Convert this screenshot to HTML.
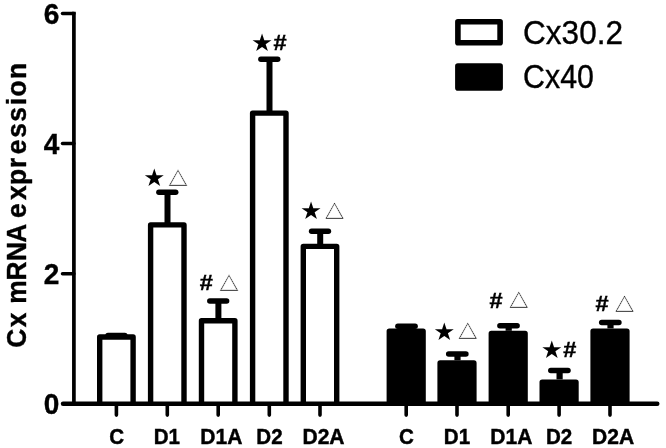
<!DOCTYPE html>
<html lang="en"><head><meta charset="utf-8"><title>Cx mRNA expression</title>
<style>html,body{margin:0;padding:0;background:#fff}body{width:666px;height:448px;overflow:hidden}svg{display:block}text{font-family:"Liberation Sans","DejaVu Sans",sans-serif;fill:#000}.b{font-weight:bold}.sym{font-family:"DejaVu Sans","Liberation Sans",sans-serif}</style></head><body>
<svg width="666" height="448" viewBox="0 0 666 448">
<rect width="666" height="448" fill="#fff"/>
<g stroke="#000" fill="none" stroke-linecap="round" stroke-linejoin="round">
<path d="M116.6 337.0V335.4" stroke-width="6" stroke-linecap="butt"/><path d="M108.0 335.4H124.8" stroke-width="5.5"/>
<path d="M167.5 224.9V192.3" stroke-width="6" stroke-linecap="butt"/><path d="M158.9 192.3H175.7" stroke-width="5.5"/>
<path d="M218.4 320.7V300.9" stroke-width="6" stroke-linecap="butt"/><path d="M209.8 300.9H226.6" stroke-width="5.5"/>
<path d="M269.5 113.1V59.3" stroke-width="6" stroke-linecap="butt"/><path d="M260.9 59.3H277.7" stroke-width="5.5"/>
<path d="M320.2 246.4V231.2" stroke-width="6" stroke-linecap="butt"/><path d="M311.6 231.2H328.4" stroke-width="5.5"/>
<path d="M99.7 403.8V337.0H133.1V403.8" stroke-width="5.4" stroke-linecap="butt" fill="#fff"/>
<path d="M150.6 403.8V224.9H184.0V403.8" stroke-width="5.4" stroke-linecap="butt" fill="#fff"/>
<path d="M201.5 403.8V320.7H234.9V403.8" stroke-width="5.4" stroke-linecap="butt" fill="#fff"/>
<path d="M252.6 403.8V113.1H286.0V403.8" stroke-width="5.4" stroke-linecap="butt" fill="#fff"/>
<path d="M303.3 403.8V246.4H336.7V403.8" stroke-width="5.4" stroke-linecap="butt" fill="#fff"/>
</g>
<g stroke="#000" stroke-linecap="round">
<path d="M406.7 328.4V326.3" stroke-width="6.2" stroke-linecap="butt" fill="none"/><path d="M397.9 326.3H415.1" stroke-width="5.5" fill="none"/>
<path d="M457.5 360.3V353.9" stroke-width="6.2" stroke-linecap="butt" fill="none"/><path d="M448.7 353.9H465.9" stroke-width="5.5" fill="none"/>
<path d="M508.7 330.8V325.7" stroke-width="6.2" stroke-linecap="butt" fill="none"/><path d="M499.9 325.7H517.1" stroke-width="5.5" fill="none"/>
<path d="M559.6 379.4V370.4" stroke-width="6.2" stroke-linecap="butt" fill="none"/><path d="M550.8 370.4H568.0" stroke-width="5.5" fill="none"/>
<path d="M610.5 328.4V322.6" stroke-width="6.2" stroke-linecap="butt" fill="none"/><path d="M601.7 322.6H618.9" stroke-width="5.5" fill="none"/>
<path d="M389.3 403.8V331.1H423.1V403.8" stroke-width="5.4" stroke-linejoin="round" stroke-linecap="butt" fill="#000"/>
<path d="M440.1 403.8V363.0H473.9V403.8" stroke-width="5.4" stroke-linejoin="round" stroke-linecap="butt" fill="#000"/>
<path d="M491.3 403.8V333.5H525.1V403.8" stroke-width="5.4" stroke-linejoin="round" stroke-linecap="butt" fill="#000"/>
<path d="M542.2 403.8V382.1H576.0V403.8" stroke-width="5.4" stroke-linejoin="round" stroke-linecap="butt" fill="#000"/>
<path d="M593.1 403.8V331.1H626.9V403.8" stroke-width="5.4" stroke-linejoin="round" stroke-linecap="butt" fill="#000"/>
</g>
<g stroke="#000" fill="none" stroke-linecap="round">
<path d="M73.9 13.5V403.8" stroke-width="3.7" stroke-linecap="square"/>
<path d="M63 403.8H657.3" stroke-width="4.4"/>
<path d="M62.5 273.7H73.9" stroke-width="3.5"/>
<path d="M62.5 143.6H73.9" stroke-width="3.5"/>
<path d="M62.5 13.5H73.9" stroke-width="3.5"/>
<path d="M116.4 405.8V415.1" stroke-width="3.6"/>
<path d="M167.3 405.8V415.1" stroke-width="3.6"/>
<path d="M218.2 405.8V415.1" stroke-width="3.6"/>
<path d="M269.3 405.8V415.1" stroke-width="3.6"/>
<path d="M320.0 405.8V415.1" stroke-width="3.6"/>
<path d="M406.2 405.8V415.1" stroke-width="3.6"/>
<path d="M457.0 405.8V415.1" stroke-width="3.6"/>
<path d="M508.2 405.8V415.1" stroke-width="3.6"/>
<path d="M559.1 405.8V415.1" stroke-width="3.6"/>
<path d="M610.0 405.8V415.1" stroke-width="3.6"/>
</g>
<text class="b" font-size="28" text-anchor="end" stroke="#000" stroke-width="0.4" transform="translate(59.4 413.8) scale(1 1.07)">0</text>
<text class="b" font-size="28" text-anchor="end" stroke="#000" stroke-width="0.4" transform="translate(59.4 283.7) scale(1 1.07)">2</text>
<text class="b" font-size="28" text-anchor="end" stroke="#000" stroke-width="0.4" transform="translate(59.4 153.6) scale(1 1.07)">4</text>
<text class="b" font-size="28" text-anchor="end" stroke="#000" stroke-width="0.4" transform="translate(59.4 23.5) scale(1 1.07)">6</text>
<text class="b" font-size="28.0" stroke="#000" stroke-width="0.4" x="0.34 21.95 38.75 47.12 71.85 92.66 112.09 128.89 138.37 157.54 173.28 191.50 206.19 223.57 240.81 258.36 267.57 286.18" y="0" transform="translate(25.7 348.0) rotate(-90) scale(0.94 1)">Cx mRNA expression</text>
<text class="b" font-size="19.4" text-anchor="middle" stroke="#000" stroke-width="0.4" transform="translate(116.7 444.0) scale(1.06 1.18)">C</text>
<text class="b" font-size="19.4" text-anchor="middle" stroke="#000" stroke-width="0.4" transform="translate(166.8 444.0) scale(1.06 1.18)">D1</text>
<text class="b" font-size="19.4" text-anchor="middle" stroke="#000" stroke-width="0.4" transform="translate(221.4 444.0) scale(1.085 1.18)">D1A</text>
<text class="b" font-size="19.4" text-anchor="middle" stroke="#000" stroke-width="0.4" transform="translate(269.5 444.0) scale(1.06 1.18)">D2</text>
<text class="b" font-size="19.4" text-anchor="middle" stroke="#000" stroke-width="0.4" transform="translate(323.5 444.0) scale(1.085 1.18)">D2A</text>
<text class="b" font-size="19.4" text-anchor="middle" stroke="#000" stroke-width="0.4" transform="translate(406.4 444.0) scale(1.06 1.18)">C</text>
<text class="b" font-size="19.4" text-anchor="middle" stroke="#000" stroke-width="0.4" transform="translate(457.0 444.0) scale(1.06 1.18)">D1</text>
<text class="b" font-size="19.4" text-anchor="middle" stroke="#000" stroke-width="0.4" transform="translate(511.4 444.0) scale(1.085 1.18)">D1A</text>
<text class="b" font-size="19.4" text-anchor="middle" stroke="#000" stroke-width="0.4" transform="translate(559.1 444.0) scale(1.06 1.18)">D2</text>
<text class="b" font-size="19.4" text-anchor="middle" stroke="#000" stroke-width="0.4" transform="translate(613.1 444.0) scale(1.085 1.18)">D2A</text>
<rect x="457.9" y="21.8" width="42.2" height="21.0" fill="#fff" stroke="#000" stroke-width="5.6" stroke-linejoin="round"/>
<rect x="457.9" y="66.0" width="42.2" height="21.9" fill="#000" stroke="#000" stroke-width="5.6" stroke-linejoin="round"/>
<text font-size="30.6" stroke="#000" stroke-width="0.35" transform="translate(523.1 43.6) scale(1.03 1.095)">Cx30.2</text>
<text font-size="30.6" stroke="#000" stroke-width="0.35" transform="translate(523.1 87.8) scale(0.992 1.095)">Cx40</text>
<text class="sym" font-size="24" transform="translate(143.25 186.20) scale(1.027 1.014)">★</text>
<text class="sym" stroke="#fff" stroke-width="0.5" font-size="24" transform="translate(168.38 183.15) scale(1.032 0.914)">△</text>
<text class="b" stroke="#000" stroke-width="0.45" font-size="24" transform="translate(199.65 290.40) scale(0.980 0.954)">#</text>
<text class="sym" stroke="#fff" stroke-width="0.5" font-size="24" transform="translate(219.43 288.00) scale(1.032 0.914)">△</text>
<text class="sym" font-size="24" transform="translate(251.00 51.05) scale(1.027 1.014)">★</text>
<text class="b" stroke="#000" stroke-width="0.45" font-size="24" transform="translate(273.55 50.40) scale(0.980 0.954)">#</text>
<text class="sym" font-size="24" transform="translate(299.95 219.35) scale(1.027 1.014)">★</text>
<text class="sym" stroke="#fff" stroke-width="0.5" font-size="24" transform="translate(324.88 215.95) scale(1.032 0.914)">△</text>
<text class="sym" font-size="24" transform="translate(433.20 340.20) scale(1.027 1.014)">★</text>
<text class="sym" stroke="#fff" stroke-width="0.5" font-size="24" transform="translate(458.33 336.35) scale(1.032 0.914)">△</text>
<text class="b" stroke="#000" stroke-width="0.45" font-size="24" transform="translate(489.55 307.70) scale(0.980 0.954)">#</text>
<text class="sym" stroke="#fff" stroke-width="0.5" font-size="24" transform="translate(509.18 305.40) scale(1.032 0.914)">△</text>
<text class="sym" font-size="24" transform="translate(540.85 358.00) scale(1.027 1.014)">★</text>
<text class="b" stroke="#000" stroke-width="0.45" font-size="24" transform="translate(563.35 356.80) scale(0.980 0.954)">#</text>
<text class="b" stroke="#000" stroke-width="0.45" font-size="24" transform="translate(595.55 311.20) scale(0.980 0.954)">#</text>
<text class="sym" stroke="#fff" stroke-width="0.5" font-size="24" transform="translate(615.08 308.85) scale(1.032 0.914)">△</text>
</svg></body></html>
